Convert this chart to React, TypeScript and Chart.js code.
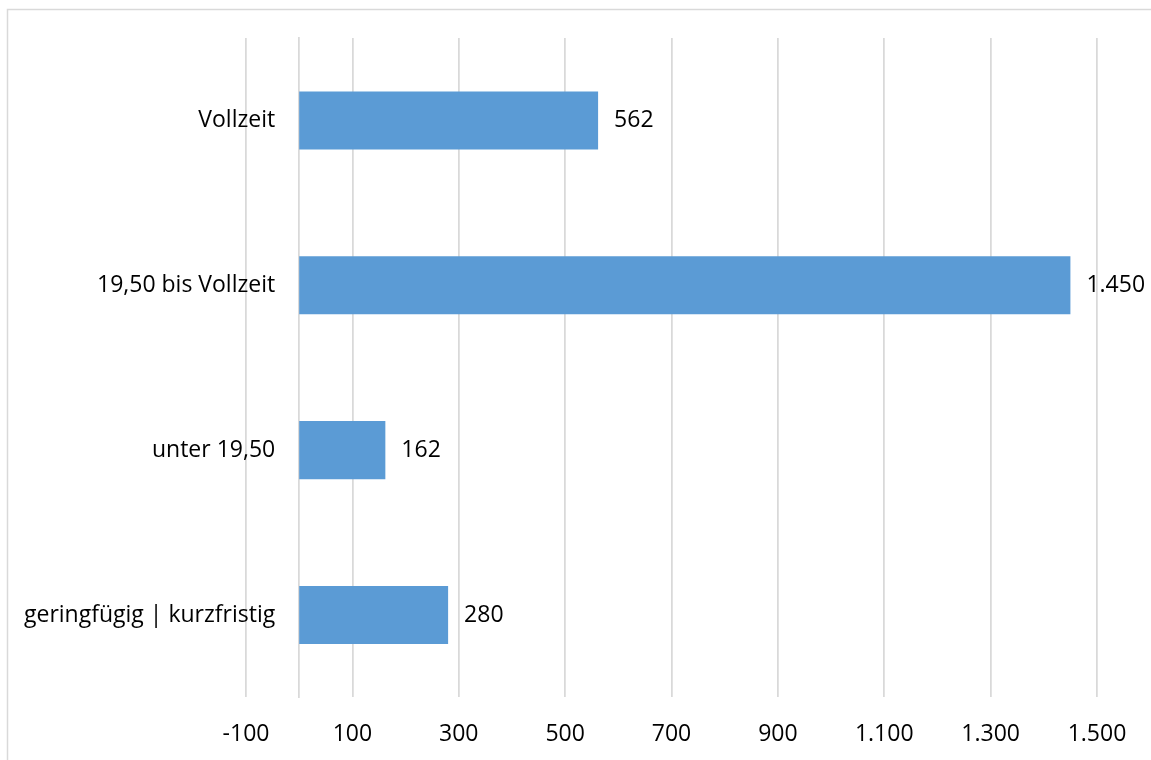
import React, { useEffect, useRef } from "react";
import { Chart, registerables } from "chart.js";

Chart.register(...registerables);

const categories = ["Vollzeit", "19,50 bis Vollzeit", "unter 19,50", "geringfügig | kurzfristig"];
const values = [562, 1450, 162, 280];
const xMin = -100;
const xMax = 1500;
const xStep = 200;

const FONT = "'Open Sans', sans-serif";
const FONT_SIZE = 23;
const GRID = "#d9d9d9";
const BAR = "#5b9bd5";

const fmt = (n: number) => {
  const s = String(Math.abs(n)).replace(/\B(?=(\d{3})+(?!\d))/g, ".");
  return (n < 0 ? "-" : "") + s;
};

const framePlugin = {
  id: "frame",
  beforeDraw(chart: any) {
    const ctx = chart.ctx;
    ctx.save();
    ctx.strokeStyle = GRID;
    ctx.lineWidth = 1.5;
    ctx.strokeRect(7.5, 9.5, 3000, 3000);
    ctx.restore();
  },
};

const catLabelPlugin = {
  id: "catLabels",
  beforeDatasetsDraw(chart: any) {
    const ctx = chart.ctx;
    const xs = chart.scales.x;
    const ys = chart.scales.y;
    const x0 = xs.getPixelForValue(0);
    ctx.save();
    ctx.font = `${FONT_SIZE}px ${FONT}`;
    ctx.fillStyle = "#000";
    ctx.textAlign = "right";
    ctx.textBaseline = "middle";
    categories.forEach((c, i) => {
      ctx.fillText(c, x0 - 24, ys.getPixelForValue(i));
    });
    ctx.restore();
  },
};

const valueLabelPlugin = {
  id: "valueLabels",
  afterDatasetsDraw(chart: any) {
    const ctx = chart.ctx;
    const meta = chart.getDatasetMeta(0);
    ctx.save();
    ctx.font = `${FONT_SIZE}px ${FONT}`;
    ctx.fillStyle = "#000";
    ctx.textAlign = "left";
    ctx.textBaseline = "middle";
    meta.data.forEach((bar: any, i: number) => {
      ctx.fillText(fmt(values[i]), bar.x + 16, bar.y);
    });
    ctx.restore();
  },
};

export default function App() {
  const ref = useRef<HTMLCanvasElement>(null);
  useEffect(() => {
    if (!ref.current) return;
    const chart = new Chart(ref.current, {
      type: "bar",
      data: {
        labels: categories,
        datasets: [
          {
            data: values,
            backgroundColor: BAR,
            borderWidth: 0,
            barPercentage: 0.352,
            categoryPercentage: 1,
          },
        ],
      },
      options: {
        indexAxis: "y",
        responsive: false,
        animation: false,
        events: [],
        layout: { padding: { left: 246, right: 54, top: 38, bottom: -11 } },
        plugins: {
          legend: { display: false },
          tooltip: { enabled: false },
          title: { display: false },
        },
        scales: {
          x: {
            type: "linear",
            min: xMin,
            max: xMax,
            ticks: {
              stepSize: xStep,
              padding: 23,
              color: "#000",
              font: { family: FONT, size: FONT_SIZE },
              callback: (v: any) => fmt(Number(v)),
              maxRotation: 0,
            },
            grid: { color: GRID, lineWidth: 1.75, drawTicks: false },
            border: { display: false },
          },
          y: {
            type: "category",
            position: { x: 0 } as any,
            ticks: { display: false },
            grid: { display: false, drawTicks: false },
            border: { color: GRID, width: 1.75 },
          },
        },
      } as any,
      plugins: [framePlugin, catLabelPlugin, valueLabelPlugin],
    });
    return () => chart.destroy();
  }, []);
  return (
    <div style={{ position: "fixed", left: 0, top: 0, width: 1151, height: 760, background: "#fff" }}>
      <canvas ref={ref} width={1151} height={760} style={{ display: "block" }} />
    </div>
  );
}
